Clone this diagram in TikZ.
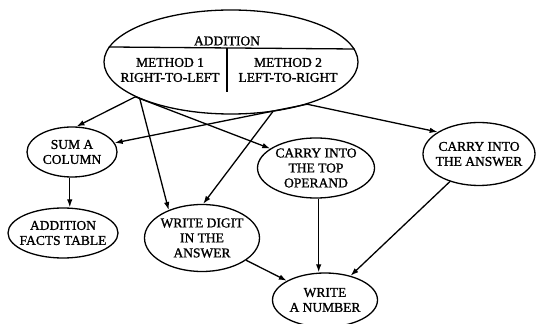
\documentclass[tikz,border=0pt]{standalone}
\usepackage{fontspec}
\setmainfont{Liberation Serif}[FakeBold=1]
\newfontfamily\labfont{Liberation Serif}[FakeBold=1.2]
\usetikzlibrary{shapes.geometric,arrows.meta}
\begin{document}
\begin{tikzpicture}[x=1pt,y=1pt,
  ell/.style={ellipse,draw,line width=1.3pt,inner sep=0pt},
  lab/.style={align=center,font=\labfont\fontsize{13.5}{15}\selectfont,inner sep=0pt},
  arr/.style={line width=1.3pt,-{Latex[length=8pt,width=5.5pt]}},
  plain/.style={line width=1.3pt}]
\useasboundingbox (0,0) rectangle (536,324);
% top ellipse
\node[ell,minimum width=254pt,minimum height=104pt] (add) at (231,262) {};
\draw[plain] (add.173.47) -- (add.6.53);
\coordinate (dtop) at (227,276);
\coordinate (dbot) at (227,232);
\draw[plain] (dtop) -- (dbot);
\node[lab] (tadd) at (227,283) {ADDITION};
\node[lab] (m1) at (170,254) {METHOD 1\\RIGHT-TO-LEFT};
\node[lab] (m2) at (288,254) {METHOD 2\\LEFT-TO-RIGHT};
% other nodes
\node[ell,minimum width=90pt,minimum height=50pt,
  label={[lab]center:SUM A\\COLUMN}] (sum) at (72,172) {};
\node[ell,minimum width=110pt,minimum height=50pt,
  label={[lab]center:ADDITION\\FACTS TABLE}] (facts) at (63,91) {};
\node[ell,minimum width=115pt,minimum height=67pt,
  label={[lab]center:WRITE DIGIT\\IN THE\\ANSWER}] (digit) at (202,86) {};
\node[ell,minimum width=117pt,minimum height=60pt,
  label={[lab]center:CARRY INTO\\THE TOP\\OPERAND}] (top) at (316,156) {};
\node[ell,minimum width=112pt,minimum height=63pt,
  label={[lab]center:CARRY INTO\\THE ANSWER}] (ans) at (479,170) {};
\node[ell,minimum width=105pt,minimum height=54pt,
  label={[lab]center:WRITE\\A NUMBER}] (num) at (325,24) {};
% connectors
\draw[arr] (add.200) -- (sum.80);
\draw[arr] (add.331) -- (sum.12);
\draw[arr] (add.331) -- (ans.152);
\draw[arr] (add.202) -- (digit.140);
\draw[arr] (add.310) -- (digit.88);
\draw[arr] (add.200) -- (top.157);
\draw[arr] (sum.265) -- (sum.265 |- facts.north);
\draw[arr] (top.275) -- (top.275 |- num.north);
\draw[arr] (digit) -- (num);
\draw[arr] (ans) -- (num);
\end{tikzpicture}
\end{document}
